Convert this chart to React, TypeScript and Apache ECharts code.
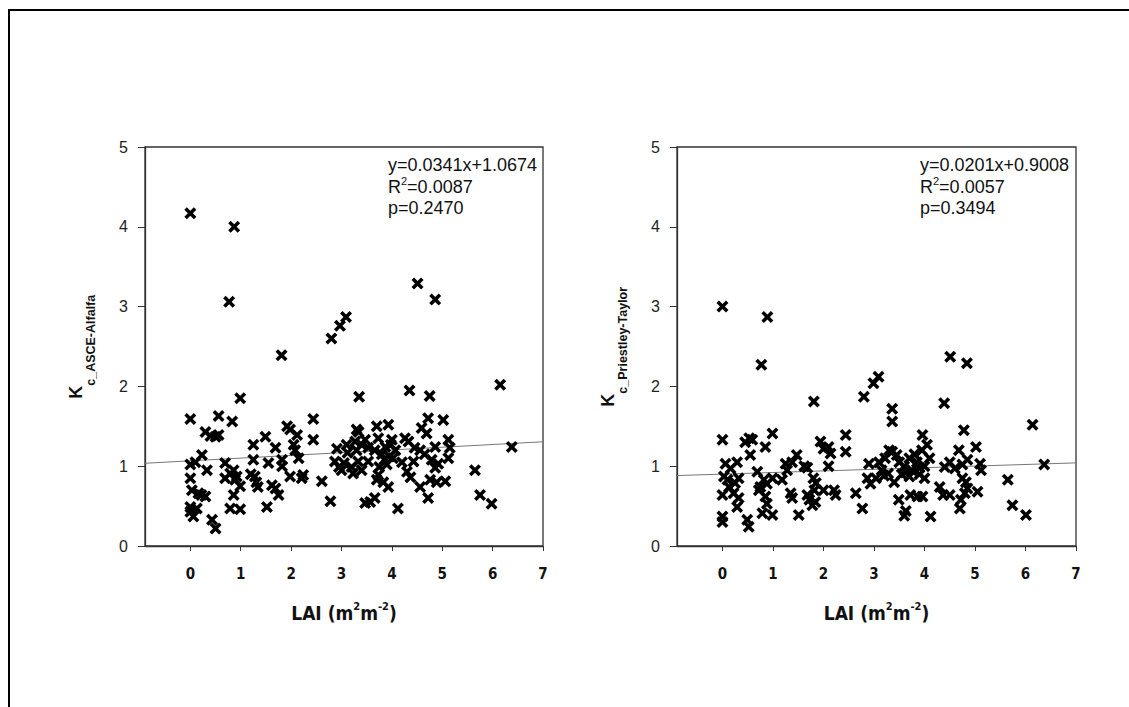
import React, { useEffect, useRef } from "react";
import * as echarts from "echarts";

// LAI tick values shown on the x axes
const xTickValues = [0, 1, 2, 3, 4, 5, 6, 7];

// Kc (ASCE alfalfa) vs LAI
const asceKc: number[][] = [
  [0, 4.17], [0.87, 4.0], [0.77, 3.06], [4.51, 3.29], [4.86, 3.09], [2.97, 2.76], [3.09, 2.87], [2.8, 2.6],
  [1.81, 2.39], [6.15, 2.02], [4.35, 1.95], [0.99, 1.85], [3.35, 1.87], [4.75, 1.88],
  [0, 1.59], [0.56, 1.63], [0.83, 1.56], [0.3, 1.43], [0.4, 1.38], [0.5, 1.37], [0.56, 1.39],
  [1.25, 1.27], [1.49, 1.37], [1.69, 1.23], [1.92, 1.5], [1.98, 1.46], [2.12, 1.39], [2.05, 1.27], [2.08, 1.2],
  [2.15, 1.1], [2.44, 1.59], [2.44, 1.33],
  [0.23, 1.14], [0, 1.02], [0.1, 1.05], [0.33, 0.95], [0, 0.85], [0.03, 0.7], [0.16, 0.66], [0.22, 0.64],
  [0.3, 0.62], [0, 0.49], [0, 0.43], [0.06, 0.37], [0.13, 0.47], [0.43, 0.33], [0.5, 0.22],
  [0.69, 1.04], [0.69, 0.85], [0.79, 0.91], [0.89, 0.83], [0.86, 0.95], [0.99, 0.75], [0.92, 0.87], [0.86, 0.64],
  [0.79, 0.47], [0.99, 0.46],
  [1.25, 1.08], [1.28, 0.87], [1.2, 0.9], [1.31, 0.8], [1.34, 0.74], [1.55, 1.04], [1.62, 0.76], [1.69, 0.72],
  [1.75, 0.64], [1.82, 1.08], [1.82, 1.0], [1.98, 0.87], [2.21, 0.85], [2.24, 0.89], [1.52, 0.49], [2.61, 0.81],
  [2.78, 0.56],
  [2.91, 1.22], [2.87, 1.06], [2.95, 0.99], [3.0, 0.95], [3.05, 1.04], [3.1, 1.27], [3.12, 1.17], [3.2, 0.99],
  [3.23, 0.91], [3.3, 1.46], [3.27, 1.31], [3.34, 1.43], [3.3, 1.2], [3.4, 1.27], [3.33, 1.06], [3.4, 0.95],
  [3.47, 1.33], [3.53, 1.23], [3.66, 1.2], [3.53, 1.06], [3.7, 1.5], [3.73, 1.35], [3.87, 1.24], [3.93, 1.52],
  [4.0, 1.33], [4.07, 1.2], [3.9, 1.02], [3.95, 1.12], [3.8, 1.15], [3.85, 1.08], [4.02, 1.1], [3.98, 1.27],
  [3.73, 0.89], [3.7, 0.83], [3.83, 0.8], [3.93, 0.74], [3.75, 0.99],
  [4.26, 1.35], [4.33, 1.31], [4.3, 0.93], [4.37, 0.86], [4.43, 1.06], [4.2, 1.05], [4.56, 1.2], [4.59, 1.48],
  [4.69, 1.41], [4.72, 1.6], [4.56, 0.74], [4.76, 0.83], [4.86, 0.98], [4.89, 0.8], [4.92, 1.03], [4.79, 1.08],
  [4.86, 1.24], [5.02, 1.58], [5.06, 0.81], [5.12, 1.33], [5.15, 1.23], [5.12, 1.1], [4.65, 1.15], [4.45, 1.23],
  [3.47, 0.54], [3.57, 0.55], [3.66, 0.6], [4.12, 0.47], [4.72, 0.6],
  [5.65, 0.95], [5.75, 0.64], [5.98, 0.53], [6.38, 1.24],
];

// Kc (Priestley-Taylor) vs LAI
const ptKc: number[][] = [
  [0, 3.0], [0.89, 2.87], [0.77, 2.27], [4.51, 2.37], [4.84, 2.29], [2.99, 2.04], [3.09, 2.12], [2.8, 1.87],
  [1.81, 1.81], [4.39, 1.79], [6.14, 1.52], [3.36, 1.72], [3.36, 1.56], [4.78, 1.45],
  [0, 1.33], [0.99, 1.41], [0.45, 1.3], [0.53, 1.35], [0.59, 1.33], [0.55, 1.14], [0.85, 1.24],
  [0.06, 1.03], [0.29, 1.05], [0.16, 0.97], [0.03, 0.87], [0.1, 0.83], [0.13, 0.74], [0.25, 0.79], [0.22, 0.66],
  [0.32, 0.6], [0.29, 0.49], [0, 0.64], [0, 0.37], [0, 0.3], [0.32, 0.85], [0.49, 0.33], [0.52, 0.24],
  [0.69, 0.93], [0.75, 0.74], [0.82, 0.83], [0.72, 0.7], [0.88, 0.78], [0.99, 0.85], [0.85, 0.62], [0.88, 0.53],
  [0.79, 0.41], [0.99, 0.39],
  [1.25, 1.03], [1.38, 1.05], [1.28, 0.95], [1.47, 1.14], [1.62, 1.0], [1.68, 0.98], [1.18, 0.83], [1.35, 0.66],
  [1.38, 0.6], [1.68, 0.64], [1.72, 0.58], [1.78, 0.51], [1.84, 0.55], [1.51, 0.39], [1.8, 0.85], [1.85, 0.79],
  [1.82, 0.7],
  [1.94, 1.31], [2.0, 1.22], [2.1, 1.24], [2.14, 1.16], [2.1, 1.0], [2.0, 0.7], [2.21, 0.7], [2.24, 0.64],
  [2.44, 1.39], [2.44, 1.18], [2.64, 0.66], [2.77, 0.47], [2.9, 1.03], [2.87, 0.85], [2.93, 0.78], [3.04, 0.85],
  [3.1, 1.05], [3.15, 0.95], [3.2, 0.88], [3.22, 1.1], [3.3, 1.2], [3.28, 0.91], [3.36, 1.18], [3.4, 0.8],
  [3.45, 1.14], [3.5, 1.05], [3.6, 1.0], [3.7, 1.1], [3.75, 0.95], [3.8, 1.15], [3.85, 1.05], [3.9, 0.98],
  [3.95, 1.2], [4.0, 1.0], [4.05, 1.27], [4.1, 1.1], [3.62, 0.92], [3.7, 0.87], [3.96, 1.39], [3.55, 0.9],
  [3.9, 0.9], [4.0, 0.85],
  [3.49, 0.58], [3.63, 0.44], [3.6, 0.38], [3.72, 0.64], [3.86, 0.62], [3.96, 0.62], [4.12, 0.37],
  [4.3, 0.74], [4.37, 0.64], [4.5, 0.64], [4.4, 0.99], [4.5, 1.05], [4.6, 0.97], [4.68, 1.2], [4.75, 1.02],
  [4.75, 0.85], [4.82, 0.8], [4.85, 0.72], [4.8, 0.66], [4.72, 0.58], [4.7, 0.47], [5.02, 1.24], [5.1, 1.03],
  [5.12, 0.95], [5.05, 0.68], [4.85, 1.08],
  [5.65, 0.83], [5.74, 0.51], [6.01, 0.39], [6.37, 1.02],
];

// Fitted regression lines (end points at the x-axis extent)
const asceFit: number[][] = [[-0.9, 1.0367], [7, 1.3061]];
const ptFit: number[][] = [[-0.9, 0.8827], [7, 1.0415]];

// Annotation texts
const asceStats = ["y=0.0341x+1.0674", "=0.0087", "p=0.2470"];
const ptStats = ["y=0.0201x+0.9008", "=0.0057", "p=0.3494"];

const yNames = ["c_ASCE-Alfalfa", "c_Priestley-Taylor"];

const X_MARK =
  "path://M0,2.5 L2.5,0 L6,3.5 L9.5,0 L12,2.5 L8.5,6 L12,9.5 L9.5,12 L6,8.5 L2.5,12 L0,9.5 L3.5,6 Z";

const SANS = '"Liberation Sans", Arial, Helvetica, sans-serif';
const NARROW = '"Liberation Sans Narrow", "Arial Narrow", "DejaVu Sans Condensed", sans-serif';

export default function App() {
  const ref = useRef<HTMLDivElement>(null);

  useEffect(() => {
    if (!ref.current) return;
    const chart = echarts.init(ref.current, null, { renderer: "svg" });

    const grids = [
      { left: 145, top: 147, width: 398, height: 399 },
      { left: 677, top: 147, width: 399, height: 399 },
    ];

    const xAxes = grids.map((_, i) => ({
      type: "value",
      gridIndex: i,
      min: -0.9,
      max: 7,
      splitLine: { show: false },
      axisLine: { show: true, onZero: false, lineStyle: { color: "#333", width: 1.3 } },
      axisTick: { show: true, inside: false, length: 5, customValues: xTickValues, lineStyle: { color: "#333" } },
      axisLabel: {
        customValues: xTickValues,
        margin: 20,
        fontSize: 15,
        fontWeight: "bold",
        fontFamily: NARROW,
        color: "#111",
      },
      name: "{a|LAI (m}{s|2}{a|m}{s|-2}{a|)}",
      nameLocation: "middle",
      nameGap: 55,
      nameTextStyle: {
        rich: {
          a: { fontSize: 19, fontWeight: "bold", fontFamily: NARROW, color: "#111", lineHeight: 24 },
          s: { fontSize: 11, fontWeight: "bold", fontFamily: NARROW, color: "#111", lineHeight: 11, verticalAlign: "top" },
        },
      },
    }));

    const yAxes = grids.map((_, i) => ({
      type: "value",
      gridIndex: i,
      min: 0,
      max: 5,
      interval: 1,
      splitLine: { show: false },
      axisLine: { show: true, onZero: false, lineStyle: { color: "#333", width: 1.3 } },
      axisTick: { show: true, inside: false, length: 7, lineStyle: { color: "#333" } },
      axisLabel: { margin: 17, fontSize: 16, fontFamily: SANS, color: "#222" },
      name: `{k|K}{s|${yNames[i]}}{z| }`,
      nameLocation: "middle",
      nameRotate: 90,
      nameGap: 48,
      nameTextStyle: {
        rich: {
          k: { fontSize: 18, fontWeight: "bold", fontFamily: SANS, color: "#111", lineHeight: 18, verticalAlign: "top" },
          s: { fontSize: 12.5, fontWeight: "bold", fontFamily: SANS, color: "#111", lineHeight: 12, verticalAlign: "bottom" },
          z: { fontSize: 2, lineHeight: 30 },
        },
      },
    }));

    const scatterStyle = {
      type: "scatter",
      symbol: X_MARK,
      symbolSize: 12,
      itemStyle: { color: "#000", opacity: 1 },
      z: 3,
    };
    const fitStyle = {
      type: "line",
      showSymbol: false,
      symbol: "none",
      lineStyle: { color: "#777", width: 1 },
      z: 2,
    };

    const statTexts = (x: number, stats: string[]) => [
      {
        type: "text",
        x,
        y: 165,
        style: { text: stats[0], font: `18px ${SANS}`, fill: "#111", verticalAlign: "middle" },
      },
      {
        type: "text",
        x,
        y: 186.5,
        style: {
          text: `{n|R}{s|2}{n|${stats[1]}}`,
          fill: "#111",
          verticalAlign: "middle",
          rich: {
            n: { fontSize: 18, fontFamily: SANS, fill: "#111", lineHeight: 22 },
            s: { fontSize: 11, fontFamily: SANS, fill: "#111", lineHeight: 11, verticalAlign: "top" },
          },
        },
      },
      {
        type: "text",
        x,
        y: 208,
        style: { text: stats[2], font: `18px ${SANS}`, fill: "#111", verticalAlign: "middle" },
      },
    ];

    chart.setOption({
      animation: false,
      backgroundColor: "#fff",
      grid: grids.map((g) => ({ ...g, show: true, borderColor: "#333", borderWidth: 1.3, backgroundColor: "transparent" })),
      xAxis: xAxes,
      yAxis: yAxes,
      series: [
        { ...fitStyle, xAxisIndex: 0, yAxisIndex: 0, data: asceFit },
        { ...scatterStyle, xAxisIndex: 0, yAxisIndex: 0, data: asceKc },
        { ...fitStyle, xAxisIndex: 1, yAxisIndex: 1, data: ptFit },
        { ...scatterStyle, xAxisIndex: 1, yAxisIndex: 1, data: ptKc },
      ],
      graphic: [
        {
          type: "rect",
          shape: { x: 9, y: 10, width: 1400, height: 1000 },
          style: { fill: "none", stroke: "#000", lineWidth: 2 },
          silent: true,
        },
        ...statTexts(388, asceStats),
        ...statTexts(920, ptStats),
      ],
    });

    return () => chart.dispose();
  }, []);

  return (
    <div
      ref={ref}
      style={{ position: "fixed", left: 0, top: 0, width: 1129, height: 707, background: "#fff" }}
    />
  );
}
